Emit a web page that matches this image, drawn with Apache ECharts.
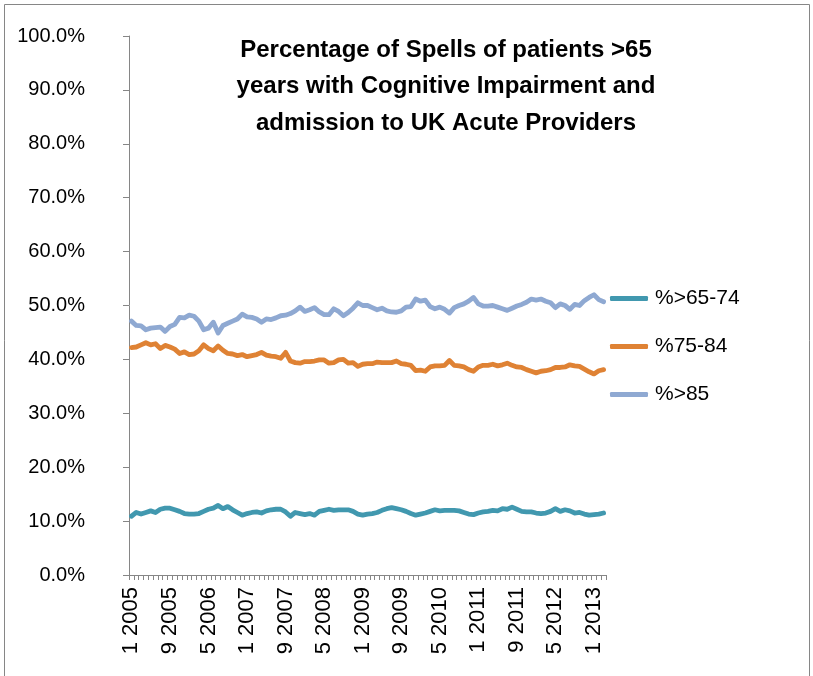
<!DOCTYPE html>
<html>
<head>
<meta charset="utf-8">
<script src="https://cdn.jsdelivr.net/npm/echarts@6/dist/echarts.min.js"></script>
<style>
html,body{margin:0;padding:0;background:#fff;}
#chart{width:813px;height:676px;}
</style>
</head>
<body>
<div id="chart"></div>
<script>
var categories = [
"1 2005","2 2005","3 2005","4 2005","5 2005","6 2005","7 2005","8 2005","9 2005","10 2005","11 2005","12 2005",
"1 2006","2 2006","3 2006","4 2006","5 2006","6 2006","7 2006","8 2006","9 2006","10 2006","11 2006","12 2006",
"1 2007","2 2007","3 2007","4 2007","5 2007","6 2007","7 2007","8 2007","9 2007","10 2007","11 2007","12 2007",
"1 2008","2 2008","3 2008","4 2008","5 2008","6 2008","7 2008","8 2008","9 2008","10 2008","11 2008","12 2008",
"1 2009","2 2009","3 2009","4 2009","5 2009","6 2009","7 2009","8 2009","9 2009","10 2009","11 2009","12 2009",
"1 2010","2 2010","3 2010","4 2010","5 2010","6 2010","7 2010","8 2010","9 2010","10 2010","11 2010","12 2010",
"1 2011","2 2011","3 2011","4 2011","5 2011","6 2011","7 2011","8 2011","9 2011","10 2011","11 2011","12 2011",
"1 2012","2 2012","3 2012","4 2012","5 2012","6 2012","7 2012","8 2012","9 2012","10 2012","11 2012","12 2012",
"1 2013","2 2013","3 2013"
];

var age65to74 = [
10.9,11.6,11.3,11.6,11.9,11.6,12.2,12.4,12.4,12.1,
11.8,11.4,11.3,11.3,11.4,11.8,12.2,12.4,12.9,12.3,
12.7,12.1,11.6,11.1,11.4,11.6,11.7,11.5,11.9,12.1,
12.2,12.2,11.7,10.9,11.6,11.4,11.2,11.4,11.1,11.8,
12.0,12.2,12.0,12.1,12.1,12.1,11.8,11.3,11.1,11.3,
11.4,11.6,12.0,12.3,12.5,12.3,12.1,11.8,11.4,11.1,
11.3,11.5,11.8,12.1,11.9,12.0,12.0,12.0,11.9,11.6,
11.3,11.2,11.5,11.7,11.8,12.0,11.9,12.3,12.2,12.6,
12.2,11.8,11.7,11.7,11.5,11.4,11.5,11.8,12.3,11.8,
12.1,11.9,11.5,11.6,11.3,11.1,11.2,11.3,11.5
];

var age75to84 = [
42.2,42.3,42.7,43.1,42.7,42.9,42.0,42.6,42.3,41.9,
41.1,41.4,40.9,41.0,41.6,42.7,42.0,41.6,42.5,41.7,
41.1,41.0,40.7,40.9,40.5,40.7,40.9,41.3,40.8,40.6,
40.5,40.2,41.3,39.7,39.4,39.3,39.6,39.6,39.7,39.9,
39.9,39.3,39.4,39.9,40.0,39.3,39.4,38.7,39.1,39.2,
39.2,39.5,39.4,39.4,39.4,39.7,39.2,39.1,38.9,37.9,
38.0,37.8,38.6,38.8,38.8,38.9,39.8,38.9,38.8,38.6,
38.1,37.8,38.6,38.9,38.9,39.1,38.8,39.0,39.3,38.9,
38.6,38.5,38.1,37.8,37.5,37.8,37.9,38.1,38.5,38.5,
38.6,39.0,38.8,38.7,38.2,37.7,37.3,37.9,38.1
];

var age85plus = [
47.1,46.3,46.2,45.5,45.8,45.9,46.0,45.2,46.1,46.5,
47.8,47.7,48.2,48.0,47.1,45.5,45.8,46.9,44.9,46.3,
46.7,47.1,47.5,48.4,47.9,47.8,47.5,46.9,47.5,47.4,
47.7,48.1,48.2,48.5,49.0,49.7,48.9,49.2,49.6,48.8,
48.3,48.3,49.4,48.9,48.1,48.7,49.5,50.5,50.0,50.0,
49.6,49.2,49.5,49.0,48.8,48.75,49.0,49.7,49.8,51.2,
50.8,51.0,49.8,49.4,49.7,49.3,48.6,49.6,50.0,50.3,
50.8,51.5,50.3,49.9,49.9,50.0,49.7,49.4,49.1,49.5,
49.9,50.2,50.6,51.2,51.0,51.2,50.8,50.5,49.6,50.3,
50.0,49.3,50.2,50.0,50.9,51.5,52.0,51.1,50.7
];

var seriesNames = ["%>65-74", "%75-84", "%>85"];
var titleText = "Percentage of Spells of patients >65\nyears with Cognitive Impairment and\nadmission to UK Acute Providers";

var FONT = "Liberation Sans, Arial, sans-serif";
var chart = echarts.init(document.getElementById('chart'), null, {renderer: 'canvas'});

function lineSeries(name, data, color) {
  return {
    name: name, type: 'line', data: data, showSymbol: false, symbol: 'none',
    lineStyle: {color: color, width: 4.8, cap: 'round', join: 'round'},
    itemStyle: {color: color}, smooth: false
  };
}

chart.setOption({
  animation: false,
  backgroundColor: '#ffffff',
  textStyle: {fontFamily: FONT},
  graphic: [{
    type: 'rect', silent: true,
    shape: {x: 4.5, y: 4.5, width: 805, height: 700},
    style: {fill: 'none', stroke: '#868686', lineWidth: 1}
  }],
  title: {
    text: titleText,
    left: 446, top: 32, textAlign: 'center', padding: 0,
    textStyle: {fontFamily: FONT, fontSize: 24, fontWeight: 'bold', color: '#000', lineHeight: 36.5}
  },
  legend: {
    orient: 'vertical', left: 610, top: 288, padding: 0, itemGap: 27,
    itemWidth: 38, itemHeight: 5, icon: 'roundRect',
    textStyle: {fontFamily: FONT, fontSize: 21, color: '#000', padding: [0, 0, 0, 2]},
    data: seriesNames
  },
  grid: {left: 129, top: 36, right: 207, bottom: 101, containLabel: false},
  xAxis: {
    type: 'category', data: categories, boundaryGap: true,
    axisLine: {lineStyle: {color: '#868686', width: 1}},
    axisTick: {show: true, interval: 0, length: 5, alignWithLabel: false, lineStyle: {color: '#868686'}},
    axisLabel: {interval: 7, rotate: 90, fontSize: 22, color: '#000', margin: 12, fontFamily: FONT},
    splitLine: {show: false}
  },
  yAxis: {
    type: 'value', min: 0, max: 100, interval: 10,
    axisLine: {show: true, lineStyle: {color: '#868686', width: 1}},
    axisTick: {show: true, length: 6, lineStyle: {color: '#868686'}},
    axisLabel: {fontSize: 20, color: '#000', margin: 44, fontFamily: FONT,
      formatter: function (v) { return v.toFixed(1) + '%'; }},
    splitLine: {show: false}
  },
  series: [
    lineSeries(seriesNames[0], age65to74, '#4198AF'),
    lineSeries(seriesNames[1], age75to84, '#DF8234'),
    lineSeries(seriesNames[2], age85plus, '#8FA9D2')
  ]
});
</script>
</body>
</html>
